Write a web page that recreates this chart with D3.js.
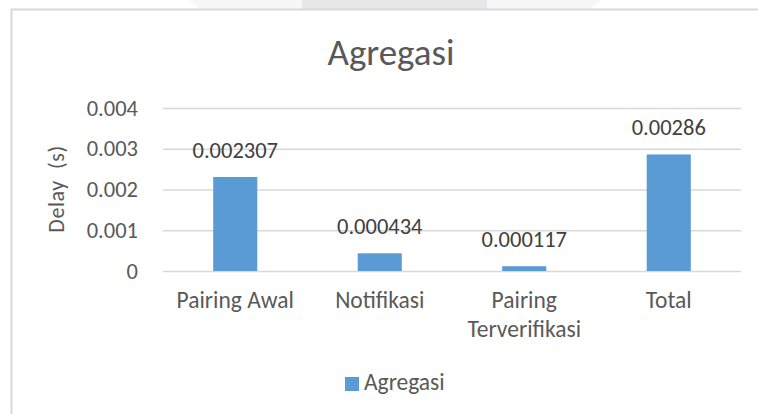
<!DOCTYPE html>
<html>
<head>
<meta charset="utf-8">
<script src="https://cdn.jsdelivr.net/npm/d3@7"></script>
<style>
  body { margin: 0; background: #fff; }
  svg text { font-family: Carlito, Calibri, Lato, sans-serif; }
</style>
</head>
<body>
<div class="main"></div>
<script>
    //Data
    const categories = ['Pairing Awal', 'Notifikasi', 'Pairing Terverifikasi', 'Total'];
    const values = [0.002307, 0.000434, 0.000117, 0.00286];
    const valueLabels = ['0.002307', '0.000434', '0.000117', '0.00286'];
    const yTicks = [0, 0.001, 0.002, 0.003, 0.004];
    const yTickLabels = ['0', '0.001', '0.002', '0.003', '0.004'];
    const title = 'Agregasi';
    const seriesName = 'Agregasi';
    const yTitle = 'Delay  (s)';

    //Variables
    const width = 758,
          height = 414,
          plot = {left: 163, right: 741, top: 108, bottom: 271},
          barColor = '#5b9bd5',
          gridColor = '#d9d9d9';

    //Create Canvas
    const svg = d3.select('.main')
                  .append('svg')
                  .attr('width', width)
                  .attr('height', height);

    //Faint background shape above the chart frame
    svg.append('polygon')
       .attr('points', '188,0 602,0 590,9 200,9')
       .attr('fill', '#f7f7f8');
    svg.append('rect')
       .attr('x', 302).attr('y', 0)
       .attr('width', 185).attr('height', 9)
       .attr('fill', '#e7e7ea');

    //Chart frame
    svg.append('rect')
       .attr('x', 11.5).attr('y', 9.5)
       .attr('width', width + 20).attr('height', height + 20)
       .attr('fill', '#fff')
       .attr('stroke', gridColor)
       .attr('stroke-width', 2);

    //Create Scales
    const xScale = d3.scaleBand()
                     .domain(categories)
                     .range([plot.left, plot.right]);

    const yScale = d3.scaleLinear()
                     .domain([0, 0.004])
                     .range([plot.bottom, plot.top]);

    const barWidth = xScale.bandwidth() * 0.305;

    //Title
    svg.append('text')
       .attr('x', 391)
       .attr('y', 65)
       .attr('text-anchor', 'middle')
       .attr('font-size', 37)
       .attr('fill', '#595959')
       .text(title);

    //Y axis with gridlines
    const yAxis = svg.append('g')
                     .attr('transform', `translate(${plot.left}, 0)`)
                     .call(d3.axisLeft(yScale)
                             .tickValues(yTicks)
                             .tickFormat((d, i) => yTickLabels[i])
                             .tickSize(-(plot.right - plot.left))
                             .tickPadding(25));
    yAxis.select('.domain').remove();
    yAxis.selectAll('line').attr('stroke', gridColor).attr('stroke-width', 1.3);
    yAxis.selectAll('text')
         .attr('font-size', 22.5)
         .attr('fill', '#595959');

    //Y axis title
    svg.append('text')
       .attr('transform', 'translate(64, 189) rotate(-90)')
       .attr('text-anchor', 'middle')
       .attr('font-size', 22)
       .attr('letter-spacing', 0.6)
       .attr('fill', '#595959')
       .style('white-space', 'pre')
       .text(yTitle);

    //Create Bars
    svg.selectAll('.bar')
       .data(values)
       .enter()
       .append('rect')
       .attr('class', 'bar')
       .attr('x', (d, i) => xScale(categories[i]) + (xScale.bandwidth() - barWidth) / 2)
       .attr('y', d => yScale(d))
       .attr('width', barWidth)
       .attr('height', d => yScale(0) - yScale(d))
       .attr('fill', barColor);

    //Data labels
    svg.selectAll('.value')
       .data(values)
       .enter()
       .append('text')
       .attr('class', 'value')
       .attr('x', (d, i) => xScale(categories[i]) + xScale.bandwidth() / 2)
       .attr('y', d => yScale(d) - 19)
       .attr('text-anchor', 'middle')
       .attr('font-size', 22.5)
       .attr('fill', '#404040')
       .text((d, i) => valueLabels[i]);

    //X axis labels, wrapped to the band width
    const xAxis = svg.append('g')
                     .attr('transform', `translate(0, ${plot.bottom})`)
                     .call(d3.axisBottom(xScale).tickSize(0).tickPadding(0));
    xAxis.select('.domain').remove();
    xAxis.selectAll('text')
         .attr('font-size', 23.5)
         .attr('fill', '#595959')
         .each(function(d) {
             const t = d3.select(this);
             const words = d.split(' ');
             t.text(null).attr('y', 37).attr('dy', null);
             let line = [];
             let tspan = t.append('tspan').attr('x', 0);
             words.forEach(w => {
                 line.push(w);
                 tspan.text(line.join(' '));
                 if (tspan.node().getComputedTextLength() > xScale.bandwidth() - 8 && line.length > 1) {
                     line.pop();
                     tspan.text(line.join(' '));
                     line = [w];
                     tspan = t.append('tspan').attr('x', 0).attr('dy', 29).text(w);
                 }
             });
         });

    //Legend
    const legend = svg.append('g').attr('transform', 'translate(345, 377)');
    legend.append('rect')
          .attr('width', 14).attr('height', 14)
          .attr('fill', barColor);
    legend.append('text')
          .attr('x', 19).attr('y', 13)
          .attr('font-size', 23.5)
          .attr('fill', '#595959')
          .text(seriesName);
</script>
</body>
</html>
